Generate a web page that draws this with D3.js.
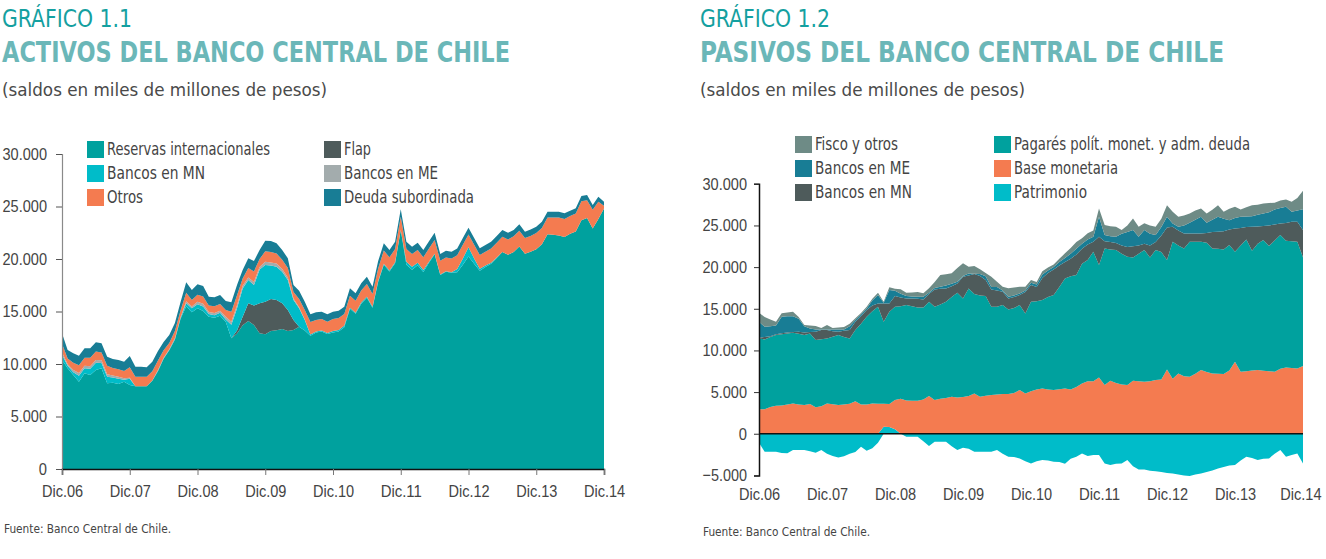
<!DOCTYPE html>
<html><head><meta charset="utf-8">
<script src="https://cdn.jsdelivr.net/npm/d3@7"></script>
<style>
body{margin:0;background:#fff;}
svg{display:block;font-family:"Liberation Sans Narrow","DejaVu Sans Condensed","Open Sans",sans-serif;}
</style></head><body>
<svg id="c" width="1326" height="559"></svg>
<script>
// ---------- shared ----------
const tickLabels = ["Dic.06","Dic.07","Dic.08","Dic.09","Dic.10","Dic.11","Dic.12","Dic.13","Dic.14"];
const tickMonths = [0,12,24,36,48,60,72,84,96];
const leftYTicks = [0,5000,10000,15000,20000,25000,30000];
const rightYTicks = [-5000,0,5000,10000,15000,20000,25000,30000];

// ---------- Gráfico 1.1: Activos (monthly, Dic.06 .. Dic.14) ----------
const reservas = [10380,
 9590,8950,8320,9110,8950,9430,9590,8160,8220,8100,8320,8000,
 7880,7870,7870,8400,9300,10500,11300,12300,14300,15500,14920,15300,
 15050,14500,14400,14600,14030,12450,12900,13700,14100,13710,12920,12830,
 13140,13210,13330,13140,13240,13550,13200,12700,13000,13100,12850,13000,
 13100,13510,15260,14780,15750,16310,15360,17800,19450,18810,19600,22760,
 19450,18970,19400,18760,19650,20450,18480,18790,18700,18750,19450,20230,
 19550,18870,19230,19550,20100,20660,20400,20660,21200,20500,20700,20930,
 21400,22350,22300,22250,22100,22400,22630,23700,23900,22900,23800,24800];
const flap = [0,
 0,0,0,0,0,0,0,0,0,0,0,0,
 0,0,0,0,0,0,0,0,0,0,0,0,
 0,0,0,0,0,0,300,800,1680,1850,2860,3110,
 3050,2890,2450,2000,950,0,0,0,0,0,0,0,
 0,0,0,0,0,0,0,0,0,0,0,0,
 0,0,0,0,0,0,0,0,0,0,0,0,
 0,0,0,0,0,0,0,0,0,0,0,0,
 0,0,0,0,0,0,0,0,0,0,0,0];
const bancosMNa = [490,
 240,270,570,480,590,690,510,620,490,490,170,600,
 0,0,0,40,90,50,60,100,100,280,380,390,
 430,260,250,270,220,1280,2100,2700,2220,1960,3220,3490,
 3180,3170,3010,2860,1910,1750,990,100,100,100,100,150,
 150,150,100,100,100,100,100,100,100,100,100,0,
 300,300,250,200,100,50,50,50,50,300,600,900,
 500,200,150,100,50,0,0,0,0,0,0,0,
 0,0,0,0,0,0,0,0,0,0,0,0];
const bancosMEa = [250,
 150,200,250,250,250,260,250,250,200,200,150,100,
 0,0,0,0,50,50,50,50,50,200,170,250,
 250,200,200,200,250,300,300,250,250,300,250,300,
 300,300,250,250,150,100,50,0,0,0,0,0,
 0,0,0,0,0,0,0,0,0,0,0,0,
 0,0,0,0,0,0,0,0,0,0,0,0,
 0,0,0,0,0,0,0,0,0,0,0,0,
 0,0,0,0,0,0,0,0,0,0,0,0];
const otros = [800,
 550,700,750,750,800,800,750,800,700,720,700,1000,
 910,920,920,880,900,700,600,700,650,800,630,650,
 700,600,650,650,650,950,950,700,900,1000,750,1000,
 1000,950,900,900,600,800,900,1200,1100,1080,1080,1130,
 1130,1100,1150,1150,1150,1200,1200,1200,1250,1250,1250,1270,
 1200,1200,1200,1200,1250,1300,1300,1300,1300,1300,1300,1200,
 1300,1300,1300,1350,1400,1450,1450,1500,1500,1500,1500,1550,
 1550,1600,1650,1700,1700,1700,1700,1800,1700,1800,1650,260];
const deuda = [1000,
 800,900,900,900,900,880,870,870,870,870,880,1060,
 950,950,900,900,900,800,750,750,800,1000,950,1000,
 1000,850,850,850,850,890,970,800,920,990,860,1010,
 1040,970,920,920,670,780,790,730,720,700,700,700,
 700,700,700,700,700,700,700,700,700,700,700,700,
 700,700,700,700,700,700,650,650,650,650,650,650,
 650,650,650,650,650,650,650,600,600,600,600,600,
 600,550,550,550,550,500,500,500,500,440,480,400];

// ---------- Gráfico 1.2: Pasivos ----------
const patrimonio = [-1080,
 -2160,-2160,-2160,-2300,-2350,-1960,-1960,-1960,-2100,-2280,-1960,-2400,
 -2680,-2840,-2700,-2400,-2200,-1560,-2040,-1750,-1080,840,800,530,
 0,-360,-360,-360,-900,-1480,-960,-960,-960,-1500,-1960,-1680,
 -1800,-2160,-2160,-2160,-2160,-1960,-2400,-2760,-2800,-2960,-3300,-3560,
 -3300,-3160,-3200,-3360,-3400,-3600,-3000,-2760,-2360,-2680,-2560,-2560,
 -3560,-3760,-3600,-3560,-3160,-3900,-4280,-4300,-4440,-4500,-4600,-4700,
 -4760,-4900,-5000,-5080,-4900,-4760,-4600,-4400,-4160,-4000,-3800,-3760,
 -3200,-2760,-2900,-3160,-3000,-2960,-2400,-1960,-2760,-2560,-2360,-3560];
const baseMonetaria = [2930,
 2930,3200,3350,3400,3500,3640,3500,3450,3560,3170,3300,3640,
 3550,3450,3500,3600,3900,3500,3500,3640,3600,2760,2760,3510,
 4200,4000,3960,3960,4100,4520,4040,4200,4300,4440,4360,4400,
 4520,4840,4440,4550,4640,4700,4760,4760,4900,5240,4840,5100,
 5300,5440,5300,5240,5350,5440,5300,5600,6040,6300,6300,6760,
 5840,6360,6100,5900,5840,6360,6300,6240,6300,6450,6500,7720,
 6600,7240,6900,6840,7200,7640,7400,7240,7200,7160,7600,8640,
 7440,7500,7600,7640,7550,7500,7440,7800,7960,7900,7840,8120];
const pagares = [8510,
 8390,8400,8490,8550,8540,8480,8500,8390,8480,8070,8050,7800,
 8090,8390,8100,7840,8540,9700,10540,11060,11640,9840,11080,11200,
 11100,11440,11340,11200,11060,11320,11200,11300,11540,11960,12560,11840,
 12920,11920,12160,11970,10600,10540,10680,10160,10200,10200,9600,10740,
 10600,10600,11100,11400,12250,13200,13600,13440,14360,14540,15540,13480,
 16400,15740,15940,15700,15400,14800,15300,15800,14860,15590,15300,13120,
 16440,15360,15340,16200,15840,15400,15520,15000,15000,14960,15040,13200,
 15160,15820,14360,15160,15690,15020,15760,16040,15200,15200,15200,13040];
const bancosMNp = [120,
 280,100,110,100,110,100,240,310,160,1000,1090,1000,
 660,400,750,1000,1000,900,800,700,400,2200,1000,1280,
 1050,800,940,1040,960,920,2080,1900,1600,1300,1120,2600,
 1560,2400,2320,1920,2080,1960,1600,1320,1300,1200,2560,2000,
 1700,2660,2900,3060,2600,1960,2100,2460,1800,1860,1200,3400,
 860,900,860,1000,1160,1340,1000,760,1440,960,2000,3920,
 1800,1800,1800,1000,1000,1000,1180,1960,2040,2180,1860,2800,
 2100,1480,2880,2080,1680,2480,1900,1400,2140,2340,2400,3280];
const bancosMEp = [1880,
 1240,1200,1050,1990,1950,1880,1560,750,440,280,60,60,
 220,280,170,460,200,200,200,600,1000,80,1600,640,
 450,280,240,240,320,160,180,240,360,300,200,80,
 240,40,240,460,300,400,160,200,200,200,200,280,
 300,400,300,300,400,500,600,700,600,600,600,2400,
 740,700,740,1400,1800,1940,1040,1640,1400,840,1000,1280,
 400,440,960,1280,1660,2000,1220,1500,1800,1500,1140,1260,
 1340,1280,1280,1420,1520,1600,1820,1860,1940,1200,1360,2520];
const fiscoOtros = [1080,
 1160,800,440,410,450,540,200,140,340,400,200,540,
 180,230,280,300,210,200,200,200,280,120,330,240,
 530,400,470,560,410,530,700,1400,1350,1250,1660,1530,
 800,920,570,400,1220,640,440,1010,950,800,440,320,
 300,400,350,300,400,550,700,800,650,750,760,1010,
 1200,1200,1200,440,800,1410,1200,810,1000,1000,1000,1400,
 1400,1200,1200,1130,1100,1010,1130,1200,1400,840,1360,1340,
 880,1120,1320,1200,1200,1100,800,900,890,1200,1500,2200];

// ---------- series definitions ----------
const C = {teal:"#00A19E", cyan:"#00BCC9", orange:"#F47B50", dark:"#4E5B5B",
           lgray:"#A3ACAD", blue:"#187D95", fisco:"#6E8B86"};

const leftSeries = [
  {key:"Reservas internacionales", values:reservas, color:C.teal},
  {key:"Flap", values:flap, color:C.dark},
  {key:"Bancos en MN", values:bancosMNa, color:C.cyan},
  {key:"Bancos en ME", values:bancosMEa, color:C.lgray},
  {key:"Otros", values:otros, color:C.orange},
  {key:"Deuda subordinada", values:deuda, color:C.blue}
];
const rightSeries = [
  {key:"Patrimonio", values:patrimonio, color:C.cyan},
  {key:"Base monetaria", values:baseMonetaria, color:C.orange},
  {key:"Pagarés polít. monet. y adm. deuda", values:pagares, color:C.teal},
  {key:"Bancos en MN", values:bancosMNp, color:C.dark},
  {key:"Bancos en ME", values:bancosMEp, color:C.blue},
  {key:"Fisco y otros", values:fiscoOtros, color:C.fisco}
];

const svg = d3.select("#c");
const fmt = d => d3.format(",")(d).replace(/,/g, ".");
// approximate rendered width of a tick label in the reference's condensed face
const glyphW = {".":3.5, "-":5, "D":10.5, "i":3.8, "c":7};
const labelWidth = s => Array.from(s).reduce((w, ch) => w + (glyphW[ch] ?? 8.2), 0);

function buildRows(series){
  return d3.range(series[0].values.length).map(i => {
    const r = {i};
    series.forEach(s => r[s.key] = s.values[i]);
    return r;
  });
}

function styleTickText(sel){
  sel.selectAll("text")
    .attr("font-size", 17).attr("fill", "#444").attr("font-family", null)
    .each(function(){
      const t = d3.select(this);
      t.attr("textLength", labelWidth(t.text())).attr("lengthAdjust", "spacingAndGlyphs");
    });
}

// ---------- titles ----------
function titles(x0, num, title, tLen){
  svg.append("text").attr("x", x0).attr("y", 27).attr("fill", "#14A0A0")
    .attr("font-size", 24).attr("textLength", 130).attr("lengthAdjust", "spacingAndGlyphs").text(num);
  svg.append("text").attr("x", x0).attr("y", 62).attr("fill", "#6BB7B8")
    .attr("font-size", 28).attr("font-weight", "bold")
    .attr("textLength", tLen).attr("lengthAdjust", "spacingAndGlyphs").text(title);
  svg.append("text").attr("x", x0).attr("y", 96).attr("fill", "#4a4a4a")
    .attr("font-size", 18).attr("textLength", 325).attr("lengthAdjust", "spacingAndGlyphs")
    .text("(saldos en miles de millones de pesos)");
}
titles(2, "GRÁFICO 1.1", "ACTIVOS DEL BANCO CENTRAL DE CHILE", 508);
titles(700, "GRÁFICO 1.2", "PASIVOS DEL BANCO CENTRAL DE CHILE", 524);

// ---------- legend ----------
function legend(items){
  items.forEach(it => {
    svg.append("rect").attr("x", it.x).attr("y", it.y).attr("width", 17).attr("height", 17)
      .attr("fill", it.color);
    svg.append("text").attr("x", it.x + 20).attr("y", it.y + 14).attr("fill", "#444")
      .attr("font-size", 17).attr("textLength", it.w).attr("lengthAdjust", "spacingAndGlyphs")
      .text(it.key);
  });
}

// ================= LEFT CHART =================
{
  const x = d3.scaleLinear().domain([0, 96]).range([62, 604]);
  const y = d3.scaleLinear().domain([0, 30000]).range([469, 154]);
  const rows = buildRows(leftSeries);
  const stack = d3.stack().keys(leftSeries.map(s => s.key));
  const layers = stack(rows);
  const area = d3.area().x(d => x(d.data.i)).y0(d => y(d[0])).y1(d => y(d[1]));
  const g = svg.append("g");
  g.selectAll("path").data(layers).join("path")
    .attr("d", area).attr("fill", (d, k) => leftSeries[k].color);

  const ya = svg.append("g").attr("transform", "translate(62,0)")
    .call(d3.axisLeft(y).tickValues(leftYTicks).tickFormat(fmt).tickSize(6).tickPadding(9));
  ya.select(".domain").attr("stroke", "#8a8a8a").attr("stroke-width", 1.2);
  ya.selectAll(".tick line").attr("stroke", "#555");
  styleTickText(ya);

  const xa = svg.append("g").attr("transform", "translate(0,469)")
    .call(d3.axisBottom(x).tickValues(tickMonths).tickFormat((d, k) => tickLabels[k]).tickSize(6).tickPadding(10));
  xa.select(".domain").attr("stroke", "#111").attr("stroke-width", 1.5);
  xa.selectAll(".tick line").attr("stroke", "#777");
  styleTickText(xa);

  legend([
    {key:"Reservas internacionales", color:C.teal, x:87, y:141, w:163},
    {key:"Bancos en MN", color:C.cyan, x:87, y:165, w:98},
    {key:"Otros", color:C.orange, x:87, y:189, w:36},
    {key:"Flap", color:C.dark, x:324, y:141, w:27},
    {key:"Bancos en ME", color:C.lgray, x:324, y:165, w:94},
    {key:"Deuda subordinada", color:C.blue, x:324, y:189, w:130}
  ]);

  svg.append("text").attr("x", 4).attr("y", 533).attr("font-size", 13).attr("fill", "#444")
    .attr("textLength", 167).attr("lengthAdjust", "spacingAndGlyphs").text("Fuente: Banco Central de Chile.");
}

// ================= RIGHT CHART =================
{
  const x = d3.scaleLinear().domain([0, 96]).range([759, 1303]);
  const y = d3.scaleLinear().domain([-5000, 30000]).range([475.4, 183.8]);
  const rows = buildRows(rightSeries);
  const stack = d3.stack().keys(rightSeries.map(s => s.key)).offset(d3.stackOffsetDiverging);
  const layers = stack(rows);
  const area = d3.area().x(d => x(d.data.i)).y0(d => y(d[0])).y1(d => y(d[1]));
  svg.append("g").selectAll("path").data(layers).join("path")
    .attr("d", area).attr("fill", (d, k) => rightSeries[k].color);

  // zero line
  svg.append("line").attr("x1", x(0)).attr("x2", x(96)).attr("y1", y(0)).attr("y2", y(0))
    .attr("stroke", "#111").attr("stroke-width", 1.5);

  const ya = svg.append("g").attr("transform", "translate(759,0)")
    .call(d3.axisLeft(y).tickValues(rightYTicks).tickFormat(fmt).tickSize(5).tickPadding(7));
  ya.select(".domain").attr("stroke", "#111").attr("stroke-width", 1.5);
  ya.selectAll(".tick line").attr("stroke", "#333");
  styleTickText(ya);

  const xa = svg.append("g").attr("transform", `translate(0,${y(-5000)})`)
    .call(d3.axisBottom(x).tickValues(tickMonths).tickFormat((d, k) => tickLabels[k]).tickSize(0).tickPadding(13));
  xa.select(".domain").remove();
  styleTickText(xa);
  // keep the last label inside the page
  xa.selectAll(".tick:last-of-type text").attr("text-anchor", "end").attr("x", 18);

  legend([
    {key:"Fisco y otros", color:C.fisco, x:795, y:136, w:83},
    {key:"Bancos en ME", color:C.blue, x:795, y:160, w:95},
    {key:"Bancos en MN", color:C.dark, x:795, y:184, w:97},
    {key:"Pagarés polít. monet. y adm. deuda", color:C.teal, x:994, y:136, w:236},
    {key:"Base monetaria", color:C.orange, x:994, y:160, w:104},
    {key:"Patrimonio", color:C.cyan, x:994, y:184, w:73}
  ]);

  svg.append("text").attr("x", 703).attr("y", 536).attr("font-size", 13).attr("fill", "#444")
    .attr("textLength", 167).attr("lengthAdjust", "spacingAndGlyphs").text("Fuente: Banco Central de Chile.");
}
</script>
</body></html>
